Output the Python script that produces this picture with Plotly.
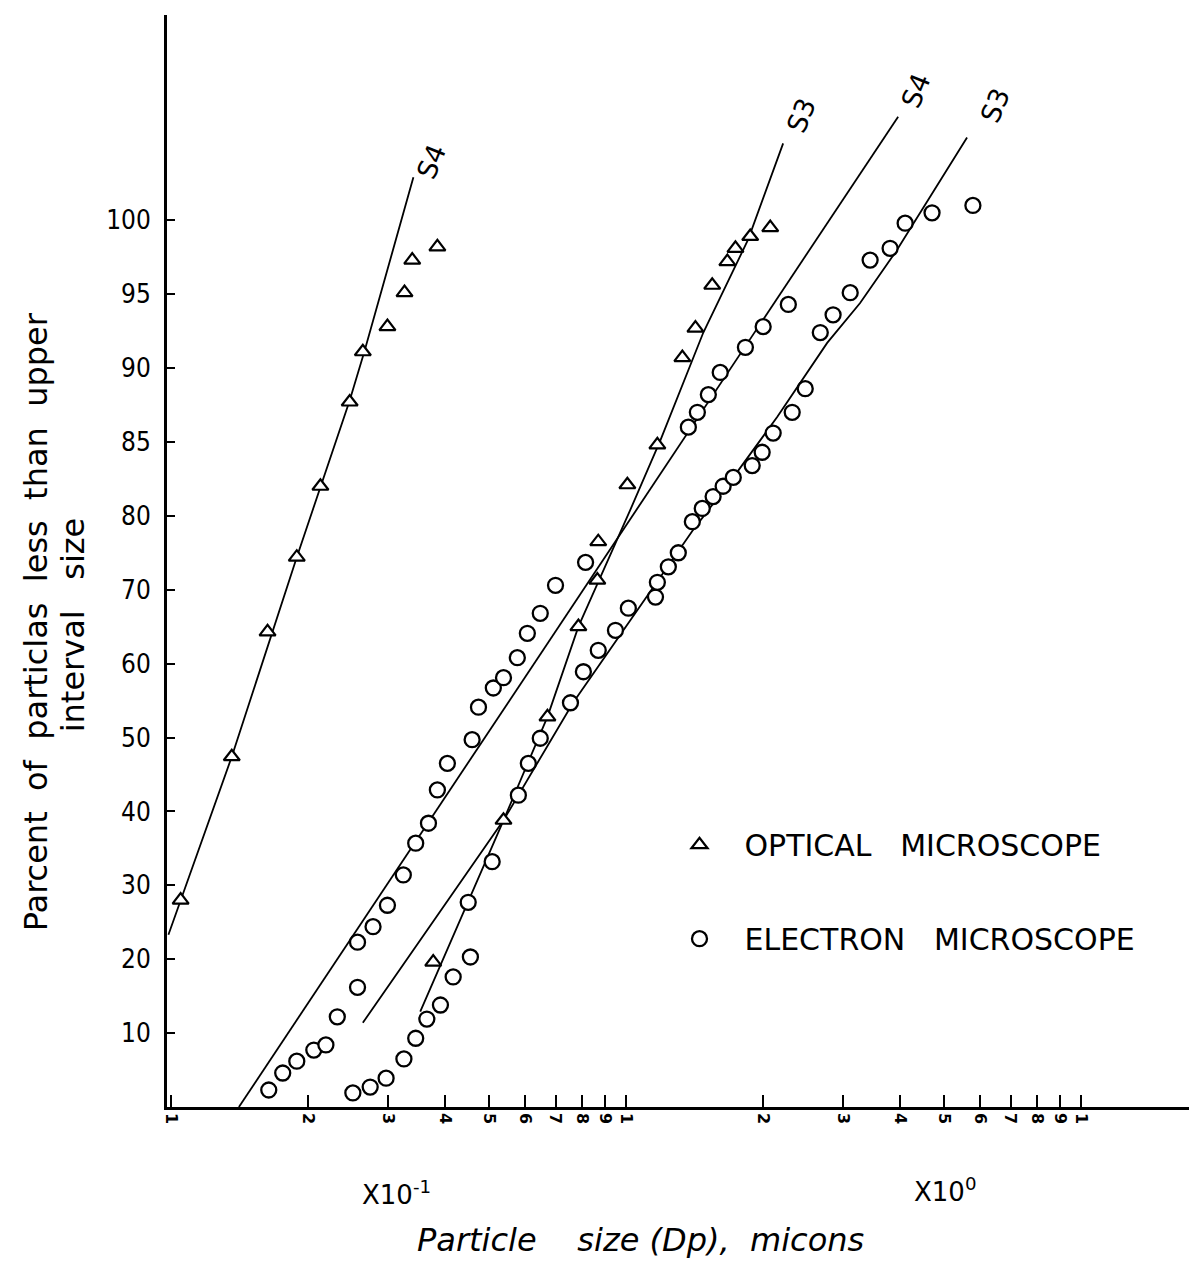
import plotly.graph_objects as go
import math

# ---------------- data (particle size in microns, cumulative percent) ----------------
S4_OPT_D = [0.105, 0.136, 0.163, 0.189, 0.213, 0.247, 0.264, 0.299, 0.326, 0.339, 0.385]
S4_OPT_P = [28.0, 47.4, 64.3, 74.4, 82.0, 87.7, 91.1, 92.8, 95.1, 97.3, 98.2]

S3_OPT_D = [0.377, 0.538, 0.672, 0.786, 0.865, 0.869, 1.007, 1.172, 1.330, 1.421,
            1.547, 1.670, 1.740, 1.875, 2.075]
S3_OPT_P = [19.6, 38.8, 52.8, 65.0, 71.3, 76.5, 82.1, 84.8, 90.7, 92.7,
            95.6, 97.2, 98.1, 98.9, 99.5]

S4_ELE_D = [0.164, 0.176, 0.189, 0.206, 0.219, 0.232, 0.257, 0.257, 0.278, 0.299,
            0.324, 0.345, 0.368, 0.385, 0.405, 0.459, 0.474, 0.511, 0.538, 0.577,
            0.607, 0.648, 0.700, 0.815, 1.371, 1.435, 1.517, 1.611, 1.830, 2.002, 2.274]
S4_ELE_P = [2.3, 4.6, 6.2, 7.7, 8.4, 12.2, 16.2, 22.3, 24.4, 27.3,
            31.4, 35.7, 38.4, 42.9, 46.5, 49.7, 54.1, 56.7, 58.1, 60.8,
            64.1, 66.8, 70.6, 73.7, 86.0, 87.0, 88.2, 89.7, 91.4, 92.8, 94.3]

S3_ELE_D = [0.251, 0.274, 0.297, 0.325, 0.345, 0.365, 0.391, 0.417, 0.455, 0.450,
            0.508, 0.580, 0.610, 0.648, 0.755, 0.806, 0.869, 0.948, 1.012, 1.161,
            1.172, 1.239, 1.303, 1.399, 1.471, 1.554, 1.635, 1.721, 1.894, 1.992,
            2.106, 2.319, 2.477, 2.673, 2.852, 3.110, 3.440, 3.806, 4.107, 4.706, 5.787]
S3_ELE_P = [1.9, 2.7, 3.9, 6.5, 9.3, 11.9, 13.8, 17.6, 20.3, 27.7,
            33.2, 42.2, 46.5, 49.9, 54.7, 58.9, 61.8, 64.5, 67.5, 69.0,
            71.0, 73.1, 75.0, 79.2, 80.5, 81.3, 82.0, 82.6, 83.4, 84.3,
            85.6, 87.0, 88.6, 92.4, 93.6, 95.1, 97.3, 98.1, 99.8, 100.5, 101.0]

# hand-drawn fit lines
S4_OPT_LINE_D = [0.0987, 0.136, 0.189, 0.247, 0.266, 0.341]
S4_OPT_LINE_P = [23.3, 47.4, 74.4, 87.8, 91.1, 102.9]
S3_OPT_LINE_D = [0.353, 0.538, 0.672, 0.786, 1.022, 1.190, 1.479, 1.856, 2.215]
S3_OPT_LINE_P = [12.9, 38.8, 52.8, 65.0, 80.4, 85.1, 92.4, 98.7, 105.2]
S4_ELE_LINE_D = [0.141, 0.748, 3.964]
S4_ELE_LINE_P = [0.0, 67.0, 107.0]
S3_ELE_LINE_D = [0.264, 0.538, 0.765, 1.075, 1.405, 1.721, 2.151, 2.768, 3.270, 3.943, 5.618]
S3_ELE_LINE_P = [11.4, 38.8, 54.7, 67.7, 78.1, 82.6, 86.7, 91.7, 94.4, 98.0, 105.6]

LINE_LABELS = ["S4", "S3", "S4", "S3"]

Y_TICK_LABELS = [10, 20, 30, 40, 50, 60, 70, 80, 85, 90, 95, 100]
X_TICK_VALS = [0.1, 0.2, 0.3, 0.4, 0.5, 0.6, 0.7, 0.8, 0.9,
               1, 2, 3, 4, 5, 6, 7, 8, 9, 10]
X_TICK_TEXT = ["1", "2", "3", "4", "5", "6", "7", "8", "9",
               "1", "2", "3", "4", "5", "6", "7", "8", "9", "1"]


# the printed percent scale: 10-unit steps up to 80, then 5-unit steps
def pos(v):
    return v / 10.0 if v <= 80 else 8 + (v - 80) / 5.0


def P(vals):
    return [pos(v) for v in vals]


FONT_C = "DejaVu Sans Condensed, DejaVu Sans, sans-serif"
FONT = "DejaVu Sans, sans-serif"
BLACK = "black"

fig = go.Figure()

line_style = dict(color=BLACK, width=1.8)
lines = [
    (S4_OPT_LINE_D, S4_OPT_LINE_P),
    (S3_OPT_LINE_D, S3_OPT_LINE_P),
    (S4_ELE_LINE_D, S4_ELE_LINE_P),
    (S3_ELE_LINE_D, S3_ELE_LINE_P),
]
for d, p in lines:
    fig.add_trace(go.Scatter(x=d, y=P(p), mode="lines", line=line_style,
                             showlegend=False, hoverinfo="skip"))

tri = dict(symbol="triangle-up", size=14, color="white",
           line=dict(color=BLACK, width=2.2))
circ = dict(symbol="circle", size=15, color="white",
            line=dict(color=BLACK, width=2.3))

fig.add_trace(go.Scatter(x=S4_OPT_D, y=P(S4_OPT_P), mode="markers", marker=tri,
                         name="OPTICAL   MICROSCOPE", legendgroup="opt",
                         showlegend=True))
fig.add_trace(go.Scatter(x=S3_OPT_D, y=P(S3_OPT_P), mode="markers", marker=tri,
                         legendgroup="opt", showlegend=False))
fig.add_trace(go.Scatter(x=S4_ELE_D, y=P(S4_ELE_P), mode="markers", marker=circ,
                         name="ELECTRON   MICROSCOPE", legendgroup="ele",
                         showlegend=True))
fig.add_trace(go.Scatter(x=S3_ELE_D, y=P(S3_ELE_P), mode="markers", marker=circ,
                         legendgroup="ele", showlegend=False))

# line-end labels
shifts = [(18, 16), (18, 28), (18, 26), (28, 32)]
for (d, p), lab, (dx, dy) in zip(lines, LINE_LABELS, shifts):
    fig.add_annotation(x=math.log10(d[-1]), y=pos(p[-1]), text=lab,
                       showarrow=False, textangle=-68, xshift=dx, yshift=dy,
                       font=dict(family=FONT, size=27, color=BLACK))

# axis titles / multipliers
fig.add_annotation(xref="paper", yref="paper", x=-0.128, y=0.444,
                   text="Parcent  of  particlas  less  than  upper", textangle=-90,
                   showarrow=False, xanchor="center", yanchor="middle",
                   font=dict(family=FONT, size=32, color=BLACK))
fig.add_annotation(xref="paper", yref="paper", x=-0.092, y=0.442,
                   text="interval   size", textangle=-90,
                   showarrow=False, xanchor="center", yanchor="middle",
                   font=dict(family=FONT, size=32, color=BLACK))
fig.add_annotation(xref="paper", yref="paper", x=0.463, y=-0.1215,
                   text="<i>Particle    size (Dp),  micons</i>",
                   showarrow=False, xanchor="center", yanchor="middle",
                   font=dict(family=FONT, size=32, color=BLACK))
fig.add_annotation(xref="paper", yref="paper", x=0.225, y=-0.079,
                   text="X10<sup>-1</sup>", showarrow=False,
                   xanchor="center", yanchor="middle",
                   font=dict(family=FONT, size=26, color=BLACK))
fig.add_annotation(xref="paper", yref="paper", x=0.761, y=-0.076,
                   text="X10<sup>0</sup>", showarrow=False,
                   xanchor="center", yanchor="middle",
                   font=dict(family=FONT, size=26, color=BLACK))

fig.update_xaxes(type="log", range=[-1.0088, 1.2374],
                 tickvals=X_TICK_VALS, ticktext=X_TICK_TEXT, tickangle=90,
                 ticks="inside", ticklen=12, tickwidth=2, tickcolor=BLACK,
                 showline=True, linewidth=2.5, linecolor=BLACK,
                 showgrid=False, zeroline=False, mirror=False,
                 tickfont=dict(family=FONT, size=16, color=BLACK, weight="bold"))
fig.update_yaxes(range=[0, 14.777],
                 tickvals=[pos(v) for v in Y_TICK_LABELS],
                 ticktext=[str(v) for v in Y_TICK_LABELS],
                 ticks="inside", ticklen=8, tickwidth=2, tickcolor=BLACK,
                 showline=True, linewidth=3, linecolor=BLACK,
                 showgrid=False, zeroline=False, mirror=False,
                 ticklabelstandoff=8,
                 tickfont=dict(family=FONT_C, size=26, color=BLACK))

fig.update_layout(
    width=1189, height=1272,
    margin=dict(l=167, r=0, t=15, b=165),
    paper_bgcolor="white", plot_bgcolor="white",
    showlegend=True,
    legend=dict(x=0.477, y=0.264, xanchor="left", yanchor="top",
                font=dict(family=FONT, size=30, color=BLACK),
                bgcolor="rgba(0,0,0,0)", tracegroupgap=52,
                itemwidth=80),
)

fig.write_html("out.html")
